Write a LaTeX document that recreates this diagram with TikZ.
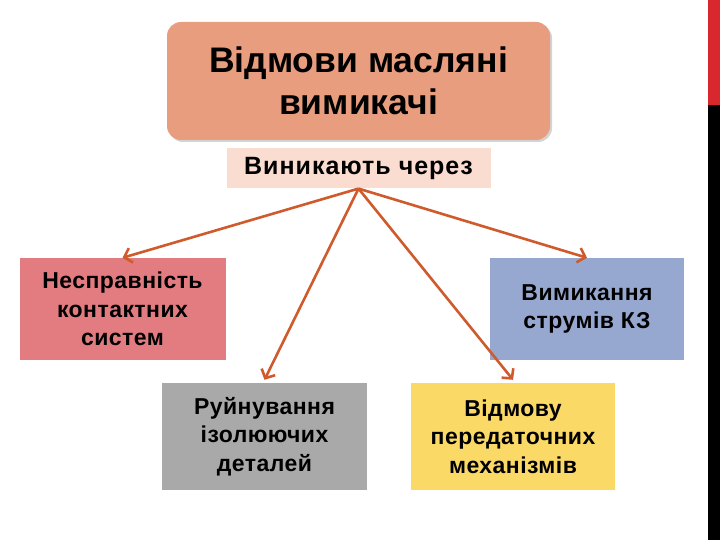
\documentclass[tikz,border=0pt]{standalone}
\usepackage{fontspec}
\setmainfont{Liberation Sans}
\usetikzlibrary{arrows.meta, positioning, shadows}

\definecolor{titlefill}{HTML}{E89E7E}
\definecolor{reasonfill}{HTML}{FADCD0}
\definecolor{rosefill}{HTML}{E27C80}
\definecolor{bluefill}{HTML}{97A8D0}
\definecolor{greyfill}{HTML}{A9A9A9}
\definecolor{yellowfill}{HTML}{FBD966}
\definecolor{arrowcol}{HTML}{CF5A2C}
\definecolor{stripred}{HTML}{D9272E}

\begin{document}
\begin{tikzpicture}[
    x=1pt, y=-1pt,
    titlebox/.style={rectangle, rounded corners=14pt, fill=titlefill, minimum width=383pt, minimum height=118pt,
      align=center, font=\fontsize{35.5}{42}\selectfont\bfseries,
      drop shadow={opacity=0.35, shadow xshift=2pt, shadow yshift=-2pt}},
    reasonbox/.style={rectangle, fill=reasonfill, minimum width=264pt, minimum height=40pt,
      font=\fontsize{25}{28}\selectfont\bfseries\addfontfeatures{LetterSpace=4}},
    cause/.style={rectangle, minimum width=206pt, minimum height=102pt, align=center,
      font=\fontsize{23}{28.5}\selectfont\bfseries\addfontfeatures{LetterSpace=2}},
    arrow/.style={-{Straight Barb[length=7pt, width=15pt]}, line width=2.6pt, arrowcol}
  ]
    \useasboundingbox (0,0) rectangle (720,540);
    % side strip
    \fill[stripred] (708,0) rectangle (720,105);
    \fill[black] (708,105) rectangle (720,540);

    % Title
    \node[titlebox] (title) at (358.5,81) {Відмови масляні\\вимикачі};
    \node[reasonbox, below=8pt of title] (reason) {Виникають через};

    % Causes
    \node[cause, fill=rosefill] (contacts) at (122.5,309) {Несправність\\контактних\\систем};
    \node[cause, fill=bluefill, minimum width=194pt] (breaking) at (587,309) {Вимикання\\струмів КЗ};
    \node[cause, fill=greyfill, minimum width=205pt, minimum height=107pt] (insulation) at (264.5,436.5) {Руйнування\\ізолюючих\\деталей};
    \node[cause, fill=yellowfill, minimum width=204pt, minimum height=107pt] (drive) at (513,436.5) {Відмову\\передаточних\\механізмів};

    % Arrows
    \draw[arrow] (reason.south) -- (contacts.north);
    \draw[arrow] (reason.south) -- (breaking.north);
    \draw[arrow] (reason.south) -- ([yshift=3pt]insulation.north);
    \draw[arrow] (reason.south) -- ([yshift=3pt]drive.north);
\end{tikzpicture}
\end{document}
